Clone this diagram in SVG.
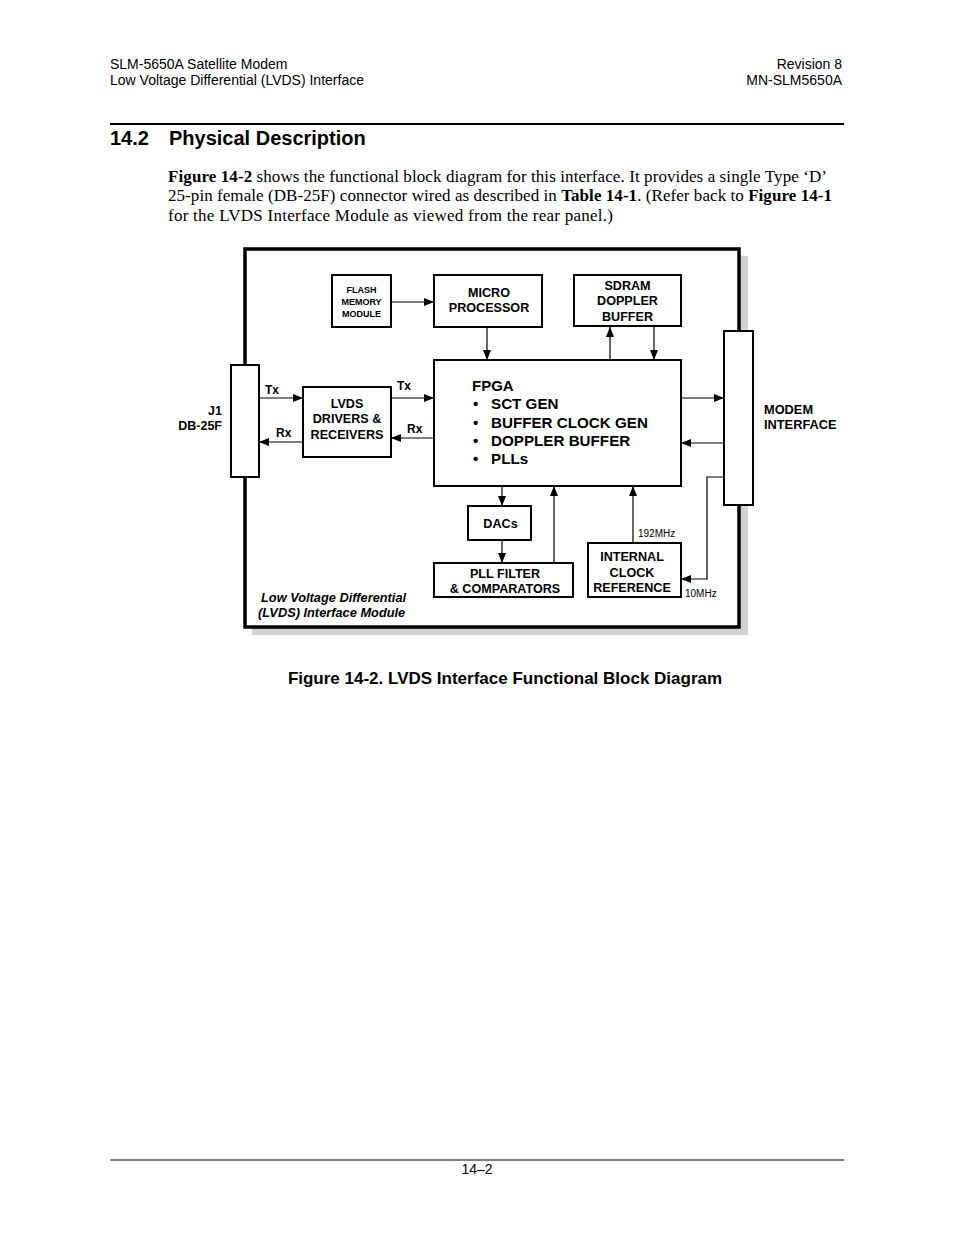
<svg xmlns="http://www.w3.org/2000/svg" width="954" height="1235" viewBox="0 0 954 1235">
<defs>
<style>
.hd{font-family:"Liberation Sans",Arial,sans-serif;font-size:14px;fill:#000}
.p{font-family:"Liberation Serif","Times New Roman",serif;font-size:17px;fill:#000}
.b{font-family:"Liberation Sans",Arial,sans-serif;font-weight:bold;fill:#000}
.r{font-family:"Liberation Sans",Arial,sans-serif;fill:#000}
.box{fill:#fff;stroke:#000;stroke-width:2}
.ln{fill:none;stroke:#000;stroke-width:1.2}
</style>
<marker id="ah" viewBox="0 0 10 10" refX="10" refY="5" markerWidth="10" markerHeight="10" markerUnits="userSpaceOnUse" orient="auto">
<path d="M0,1 L10,5 L0,9 Z" fill="#000"/>
</marker>
</defs>
<rect width="954" height="1235" fill="#fff"/>

<g id="header">
<text class="hd" x="110" y="69">SLM-5650A Satellite Modem</text>
<text class="hd" x="110" y="85">Low Voltage Differential (LVDS) Interface</text>
<text class="hd" x="842" y="69" text-anchor="end">Revision 8</text>
<text class="hd" x="842" y="85" text-anchor="end">MN-SLM5650A</text>
<line x1="110" y1="124" x2="844" y2="124" stroke="#000" stroke-width="2"/>
<text class="b" y="145" font-size="20"><tspan x="110">14.2</tspan><tspan x="169">Physical Description</tspan></text>
</g>

<g id="paragraph">
<text class="p" x="168" y="182" textLength="659" lengthAdjust="spacing"><tspan font-weight="bold">Figure 14-2</tspan> shows the functional block diagram for this interface. It provides a single Type ‘D’</text>
<text class="p" x="168" y="201" textLength="664" lengthAdjust="spacing">25-pin female (DB-25F) connector wired as described in <tspan font-weight="bold">Table 14-1</tspan>. (Refer back to <tspan font-weight="bold">Figure 14-1</tspan></text>
<text class="p" x="168" y="221" textLength="445" lengthAdjust="spacing">for the LVDS Interface Module as viewed from the rear panel.)</text>
</g>

<g id="frame">
<rect x="252" y="256" width="496" height="379" fill="#d2d2d2"/>
<rect x="245" y="249" width="494" height="378" fill="#fff" stroke="#000" stroke-width="3.5"/>
<text class="b" x="261" y="602" font-size="12.8" font-style="italic">Low Voltage Differential</text>
<text class="b" x="258" y="617" font-size="12.8" font-style="italic">(LVDS) Interface Module</text>
</g>

<g id="connectors">
<line class="ln" x1="392" y1="302" x2="434" y2="302" marker-end="url(#ah)"/>
<line class="ln" x1="487" y1="327" x2="487" y2="360" marker-end="url(#ah)"/>
<line class="ln" x1="610" y1="360" x2="610" y2="327" marker-end="url(#ah)"/>
<line class="ln" x1="654" y1="327" x2="654" y2="360" marker-end="url(#ah)"/>
<line class="ln" x1="259" y1="398" x2="303" y2="398" marker-end="url(#ah)"/>
<line class="ln" x1="303" y1="442" x2="259" y2="442" marker-end="url(#ah)"/>
<line class="ln" x1="391" y1="398" x2="434" y2="398" marker-end="url(#ah)"/>
<line class="ln" x1="434" y1="438" x2="391" y2="438" marker-end="url(#ah)"/>
<line class="ln" x1="681" y1="398" x2="724" y2="398" marker-end="url(#ah)"/>
<line class="ln" x1="724" y1="443" x2="681" y2="443" marker-end="url(#ah)"/>
<line class="ln" x1="502" y1="486" x2="502" y2="506" marker-end="url(#ah)"/>
<line class="ln" x1="502" y1="540" x2="502" y2="563" marker-end="url(#ah)"/>
<line class="ln" x1="554" y1="563" x2="554" y2="486" marker-end="url(#ah)"/>
<line class="ln" x1="633" y1="543" x2="633" y2="486" marker-end="url(#ah)"/>
<polyline class="ln" points="724,477 707,477 707,579 681,579" marker-end="url(#ah)"/>
<text class="b" x="265" y="394" font-size="12">Tx</text>
<text class="b" x="276" y="437" font-size="12">Rx</text>
<text class="b" x="397" y="390" font-size="12">Tx</text>
<text class="b" x="407" y="433" font-size="12">Rx</text>
<text class="r" x="638" y="537" font-size="10">192MHz</text>
<text class="r" x="685" y="597" font-size="10">10MHz</text>
</g>

<g id="j1">
<rect class="box" x="231" y="365" width="28" height="112"/>
<text class="b" x="222" y="415" font-size="12.5" text-anchor="end">J1</text>
<text class="b" x="222" y="430" font-size="12.5" text-anchor="end">DB-25F</text>
</g>

<g id="modem">
<rect class="box" x="724" y="331" width="29" height="174"/>
<text class="b" x="764" y="414" font-size="12.8">MODEM</text>
<text class="b" x="764" y="429" font-size="12.8">INTERFACE</text>
</g>

<g id="flash">
<rect class="box" x="332" y="275" width="59" height="52"/>
<text class="b" font-size="9" text-anchor="middle"><tspan x="361.5" y="293">FLASH</tspan><tspan x="361.5" y="305">MEMORY</tspan><tspan x="361.5" y="317">MODULE</tspan></text>
</g>

<g id="micro">
<rect class="box" x="434" y="275" width="108" height="52"/>
<text class="b" font-size="12.6" text-anchor="middle"><tspan x="489" y="297">MICRO</tspan><tspan x="489" y="312">PROCESSOR</tspan></text>
</g>

<g id="sdram">
<rect class="box" x="574" y="275" width="107" height="51"/>
<text class="b" font-size="12.6" text-anchor="middle"><tspan x="627.5" y="290">SDRAM</tspan><tspan x="627.5" y="305">DOPPLER</tspan><tspan x="627.5" y="321">BUFFER</tspan></text>
</g>

<g id="lvds">
<rect class="box" x="303" y="387" width="88" height="70"/>
<text class="b" font-size="12.6" text-anchor="middle"><tspan x="347" y="408">LVDS</tspan><tspan x="347" y="423">DRIVERS &amp;</tspan><tspan x="347" y="439">RECEIVERS</tspan></text>
</g>

<g id="fpga">
<rect class="box" x="434" y="360" width="247" height="126"/>
<text class="b" x="472" y="391" font-size="15">FPGA</text>
<text class="b" font-size="15"><tspan x="473" y="409">•</tspan><tspan x="473" y="428">•</tspan><tspan x="473" y="446">•</tspan><tspan x="473" y="464">•</tspan></text>
<text class="b" font-size="15.2"><tspan x="491" y="409">SCT GEN</tspan><tspan x="491" y="428">BUFFER CLOCK GEN</tspan><tspan x="491" y="446">DOPPLER BUFFER</tspan><tspan x="491" y="464">PLLs</tspan></text>
</g>

<g id="dacs">
<rect class="box" x="468" y="506" width="63" height="34"/>
<text class="b" x="500.5" y="528" font-size="12.6" text-anchor="middle">DACs</text>
</g>

<g id="pll">
<rect class="box" x="434" y="563" width="139" height="34"/>
<text class="b" font-size="12.6" text-anchor="middle"><tspan x="505" y="578">PLL FILTER</tspan><tspan x="505" y="593">&amp; COMPARATORS</tspan></text>
</g>

<g id="icr">
<rect class="box" x="588" y="543" width="93" height="54"/>
<text class="b" font-size="12.6" text-anchor="middle"><tspan x="632" y="561">INTERNAL</tspan><tspan x="632" y="577">CLOCK</tspan><tspan x="632" y="592">REFERENCE</tspan></text>
</g>

<g id="caption">
<text class="b" x="505" y="684" font-size="17" text-anchor="middle">Figure 14-2. LVDS Interface Functional Block Diagram</text>
</g>

<g id="footer">
<line x1="110" y1="1160" x2="844" y2="1160" stroke="#000" stroke-width="1"/>
<text class="hd" x="477" y="1174" text-anchor="middle" font-size="13">14–2</text>
</g>
</svg>
